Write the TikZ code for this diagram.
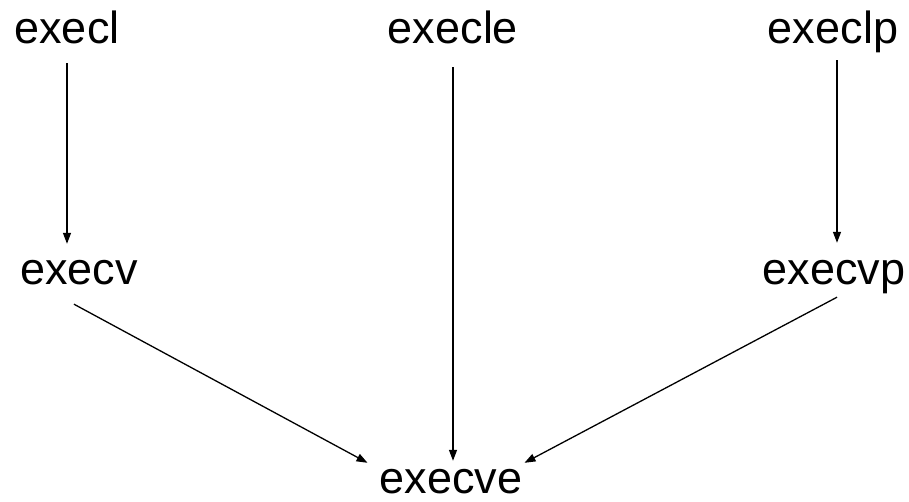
\documentclass[tikz,border=0pt]{standalone}
\usepackage{fontspec}
\setmainfont{Liberation Sans}
\usetikzlibrary{arrows.meta}
\begin{document}
\begin{tikzpicture}[x=1pt,y=-1pt,
  lbl/.style={anchor=base,inner sep=0pt,text height=32pt,text depth=10pt,font=\fontsize{45}{54}\selectfont},
  arr/.style={draw=black,line width=1.3pt,-{Triangle[length=11pt,width=8pt]}}]
\useasboundingbox (0,0) rectangle (909,501);
\node[lbl] (execl)  at (67,43)  {execl};
\node[lbl] (execle) at (453,43) {execle};
\node[lbl] (execlp) at (833,43) {execlp};
\node[lbl] (execv)  at (79,284) {execv};
\node[lbl] (execvp) at (834,284) {execvp};
\node[lbl,text depth=2pt] (execve) at (451,493) {execve};
\draw[arr] ([yshift=-10pt]execl.south) -- ([xshift=-12pt,yshift=8pt]execv.north);
\draw[arr] ([yshift=-14pt]execle.south) -- ([xshift=2pt,yshift=0pt]execve.north);
\draw[arr] ([xshift=4pt,yshift=-7pt]execlp.south) -- ([xshift=3pt,yshift=9pt]execvp.north);
\draw[arr] ([xshift=-5pt,yshift=-10pt]execv.south) -- ([xshift=-12pt,yshift=-2pt]execve.north west);
\draw[arr] ([xshift=3pt,yshift=-3pt]execvp.south) -- ([xshift=2pt,yshift=-2pt]execve.north east);
\end{tikzpicture}
\end{document}
